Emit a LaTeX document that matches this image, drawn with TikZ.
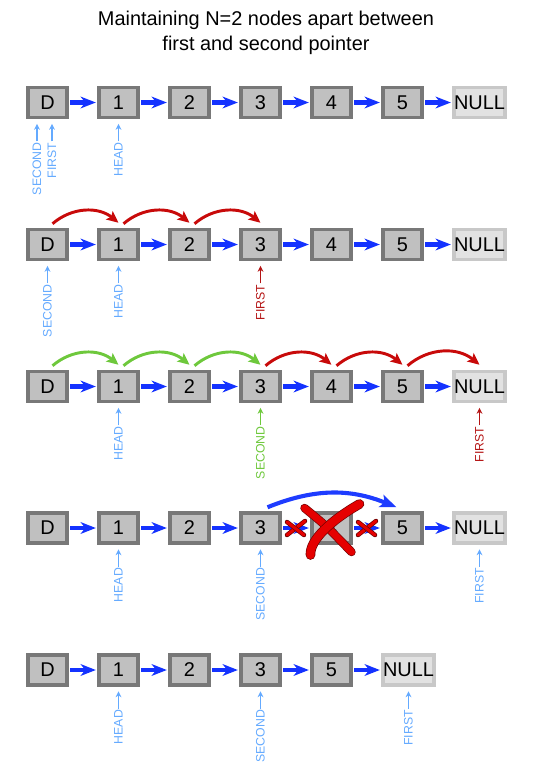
\documentclass[tikz,border=0pt]{standalone}
\usepackage{fontspec}
\setmainfont{Liberation Sans}
\usetikzlibrary{arrows.meta,calc}

\definecolor{linkblue}{RGB}{20,50,255}
\definecolor{ptrblue}{RGB}{100,170,255}
\definecolor{ptrred}{RGB}{180,20,20}
\definecolor{ptrgreen}{RGB}{110,200,60}
\definecolor{hopred}{RGB}{200,10,10}
\definecolor{hopgreen}{RGB}{110,200,60}
\definecolor{hopblue}{RGB}{30,60,255}
\definecolor{cellfill}{RGB}{192,192,192}
\definecolor{celledge}{RGB}{120,120,120}
\definecolor{nullfill}{RGB}{226,226,226}
\definecolor{nulledge}{RGB}{200,200,200}

\tikzset{
  cell/.style={draw=celledge, fill=cellfill, line width=3pt,
    minimum width=1.17cm, minimum height=0.9cm, inner sep=0pt,
    font=\fontsize{17}{17}\selectfont},
  nullcell/.style={cell, draw=nulledge, fill=nullfill, minimum width=1.53cm},
  link/.style={linkblue, line width=3.5pt,
    -{Stealth[length=13pt,width=10pt,inset=4pt]},
    shorten <=1.2pt, shorten >=1.2pt},
  ptrtext/.style={rotate=90, anchor=east, inner sep=0pt,
    font=\fontsize{10.5}{10.5}\selectfont},
  ptr/.style={line width=1.3pt, -{Stealth[length=5pt,width=5pt]},
    shorten <=0.8pt, shorten >=4pt},
  hop/.style={line width=2.5pt, -{Stealth[length=10pt,width=9pt,inset=2pt]},
    bend left=40},
  xmark/.style={draw=red!45!black, double=red!90!black, line width=0.6pt,
    line cap=round}
}

\begin{document}
\begin{tikzpicture}[x=0.03cm, y=-0.03cm]
    \useasboundingbox (0,0) rectangle (559,776);

    % 1. Title
    \node[font=\fontsize{17}{21.5}\selectfont, align=center] (title) at (266,33)
        {Maintaining N=2 nodes apart between\\first and second pointer};

    % 2. The four full lists D -> 1 -> ... -> 5 -> NULL
    \foreach \r/\y in {1/102.5, 2/244.5, 3/386.5, 4/528} {
        \foreach \k/\t in {0/D, 1/1, 2/2, 3/3, 4/4, 5/5} {
            \node[cell] (r\r-\k) at (47.5+71*\k, \y) {\t};
        }
        \node[nullcell] (r\r-6) at (47.5+71*6+6, \y) {NULL};
        \foreach \k [evaluate=\k as \j using int(\k+1)] in {0,...,5} {
            \draw[link] (r\r-\k) -- (r\r-\j);
        }
    }

    % 3. Last list, node 4 removed
    \foreach \k/\t in {0/D, 1/1, 2/2, 3/3, 4/5} {
        \node[cell] (r5-\k) at (47.5+71*\k, 670) {\t};
    }
    \node[nullcell] (r5-5) at (47.5+71*5+6, 670) {NULL};
    \foreach \k [evaluate=\k as \j using int(\k+1)] in {0,...,4} {
        \draw[link] (r5-\k) -- (r5-\j);
    }

    % 4. Hops of the first pointer
    \foreach \k [evaluate=\k as \j using int(\k+1)] in {0,1,2} {
        \draw[hop, hopred] ($(r2-\k.north)+(5,-4)$) to ($(r2-\j.north)+(0,-5)$);
        \draw[hop, hopgreen] ($(r3-\k.north)+(5,-4)$) to ($(r3-\j.north)+(0,-5)$);
    }
    \foreach \k [evaluate=\k as \j using int(\k+1)] in {3,4,5} {
        \draw[hop, hopred] ($(r3-\k.north)+(5,-4)$) to ($(r3-\j.north)+(0,-5)$);
    }

    % 5. Unlinking node 4
    \draw[hop, hopblue, line width=3.5pt, bend left=22,
          -{Stealth[length=14pt,width=11pt,inset=3pt]}]
        ($(r4-3.north)+(7,-4)$) to ($(r4-5.north)+(-6,-4)$);
    \coordinate (cut1) at ($(r4-3.east)!0.5!(r4-4.west)$);
    \coordinate (cut2) at ($(r4-4.east)!0.5!(r4-5.west)$);
    \foreach \c in {cut1, cut2} {
        \draw[xmark, double distance=2.6pt] ($(\c)+(9,-7)$) -- ($(\c)+(-9,7)$);
        \draw[xmark, double distance=2.6pt] ($(\c)+(-9,-6)$) -- ($(\c)+(8,7)$);
    }
    \draw[xmark, double distance=6pt]
        ($(r4-4)+(-27,-20)$) .. controls ($(r4-4)+(-5,-2)$) .. ($(r4-4)+(20,24)$);
    \draw[xmark, double distance=7pt]
        ($(r4-4)+(28,-24)$) .. controls ($(r4-4)+(0,-8)$) and ($(r4-4)+(-22,12)$) .. ($(r4-4)+(-21,27)$);

    % 6. Pointer labels
    \node[ptrtext, ptrblue] (sec1) at ($(r1-0.south)+(-10.5,23)$) {SECOND};
    \node[ptrtext, ptrblue] (fir1) at ($(r1-0.south)+(4.5,23)$) {FIRST};
    \node[ptrtext, ptrblue] (hd1) at ($(r1-1.south)+(0,23)$) {HEAD};
    \draw[ptr, ptrblue] (sec1.east) -- (sec1.east |- r1-0.south);
    \draw[ptr, ptrblue] (fir1.east) -- (fir1.east |- r1-0.south);
    \draw[ptr, ptrblue] (hd1.east) -- (r1-1.south);

    \node[ptrtext, ptrblue] (sec2) at ($(r2-0.south)+(0,23)$) {SECOND};
    \node[ptrtext, ptrblue] (hd2) at ($(r2-1.south)+(0,23)$) {HEAD};
    \node[ptrtext, ptrred] (fir2) at ($(r2-3.south)+(0,23)$) {FIRST};
    \draw[ptr, ptrblue] (sec2.east) -- (r2-0.south);
    \draw[ptr, ptrblue] (hd2.east) -- (r2-1.south);
    \draw[ptr, ptrred] (fir2.east) -- (r2-3.south);

    \node[ptrtext, ptrblue] (hd3) at ($(r3-1.south)+(0,23)$) {HEAD};
    \node[ptrtext, ptrgreen] (sec3) at ($(r3-3.south)+(0,23)$) {SECOND};
    \node[ptrtext, ptrred] (fir3) at ($(r3-6.south)+(0,23)$) {FIRST};
    \draw[ptr, ptrblue] (hd3.east) -- (r3-1.south);
    \draw[ptr, ptrgreen] (sec3.east) -- (r3-3.south);
    \draw[ptr, ptrred] (fir3.east) -- (r3-6.south);

    \node[ptrtext, ptrblue] (hd4) at ($(r4-1.south)+(0,23)$) {HEAD};
    \node[ptrtext, ptrblue] (sec4) at ($(r4-3.south)+(0,23)$) {SECOND};
    \node[ptrtext, ptrblue] (fir4) at ($(r4-6.south)+(0,23)$) {FIRST};
    \draw[ptr, ptrblue] (hd4.east) -- (r4-1.south);
    \draw[ptr, ptrblue] (sec4.east) -- (r4-3.south);
    \draw[ptr, ptrblue] (fir4.east) -- (r4-6.south);

    \node[ptrtext, ptrblue] (hd5) at ($(r5-1.south)+(0,23)$) {HEAD};
    \node[ptrtext, ptrblue] (sec5) at ($(r5-3.south)+(0,23)$) {SECOND};
    \node[ptrtext, ptrblue] (fir5) at ($(r5-5.south)+(0,23)$) {FIRST};
    \draw[ptr, ptrblue] (hd5.east) -- (r5-1.south);
    \draw[ptr, ptrblue] (sec5.east) -- (r5-3.south);
    \draw[ptr, ptrblue] (fir5.east) -- (r5-5.south);
\end{tikzpicture}
\end{document}
